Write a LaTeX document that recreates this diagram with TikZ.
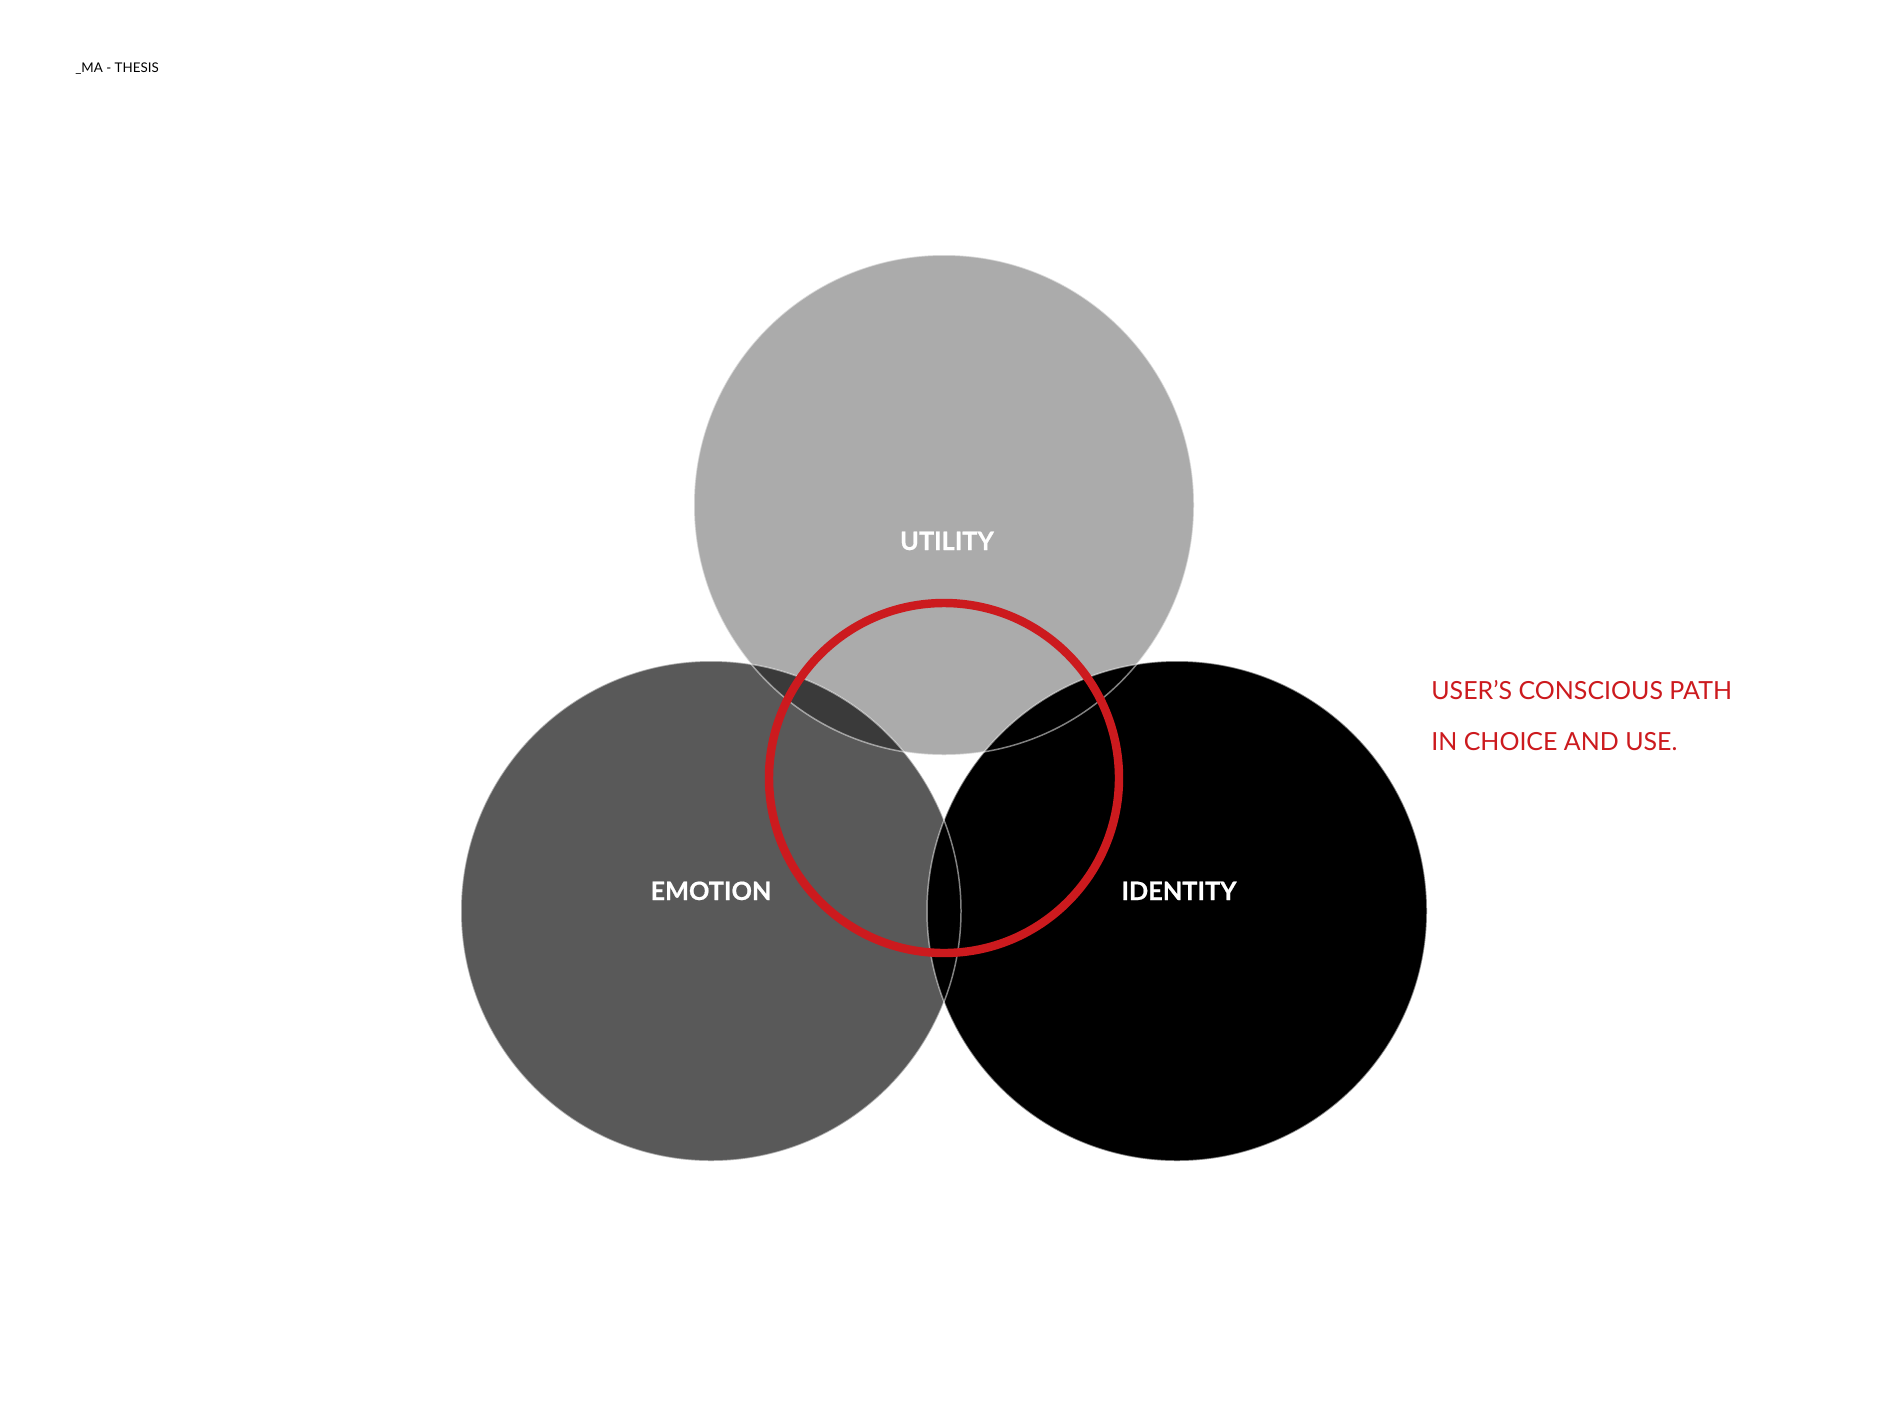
\documentclass[tikz,border=0pt]{standalone}
\usepackage{fontspec}
\setmainfont{Lato}[BoldFeatures={FakeBold=0.6}]
\definecolor{utilgrey}{HTML}{ABABAB}
\definecolor{emogrey}{HTML}{595959}
\definecolor{ovlgrey}{HTML}{3A3A3A}
\definecolor{pathred}{HTML}{CC1A1E}
\tikzset{
  circlabel/.style={anchor=base, text=white, font=\bfseries\fontsize{14.4}{17}\selectfont, inner sep=0pt},
  redtext/.style={anchor=base west, text=pathred, font=\fontsize{14.2}{17}\selectfont, inner sep=0pt},
  rimline/.style={draw=white, draw opacity=0.5, line width=0.85pt},
}
\begin{document}
\begin{tikzpicture}[x=0.02cm, y=-0.02cm]
\useasboundingbox[fill=white] (0,0) rectangle (1890,1417);
% circles
\fill[utilgrey] (944,505) circle[radius=250];
\fill[emogrey] (711,911) circle[radius=250];
\fill[black] (1177,911) circle[radius=250];
\begin{scope}
  \clip (711,911) circle[radius=250];
  \fill[ovlgrey] (944,505) circle[radius=250];
\end{scope}
% rims
\draw[rimline] (944,505) circle[radius=250];
\draw[rimline] (711,911) circle[radius=250];
\draw[rimline] (1177,911) circle[radius=250];
% red ring
\draw[pathred, line width=4.8pt] (944,778) circle[radius=175];
% labels
\node[circlabel] (utility) at (947,550) {UTILITY};
\node[circlabel] (emotion) at (711,900) {EMOTION};
\node[circlabel] (identity) at (1179,900) {IDENTITY};
\node[redtext] (path1) at (1431,699) {USER’S CONSCIOUS PATH};
\node[redtext] (path2) at (1431,750) {IN CHOICE AND USE.};
\node[anchor=base west, inner sep=0pt, font=\fontsize{7.6}{9}\selectfont] (title) at (75,72) {\_MA - THESIS};
\end{tikzpicture}
\end{document}
